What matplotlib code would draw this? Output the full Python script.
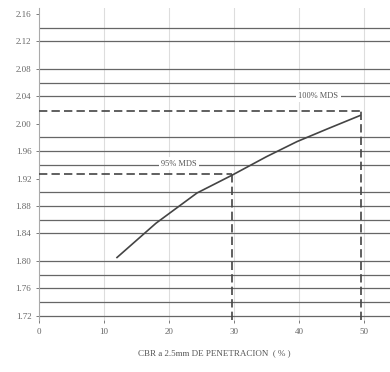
import matplotlib
matplotlib.use('Agg')
import matplotlib.pyplot as plt

# CBR curve
cbr = [12.0, 18.0, 24.3, 29.7, 35.0, 39.7, 44.5, 49.4]
density = [1.805, 1.855, 1.899, 1.925, 1.952, 1.974, 1.993, 2.012]

# reference levels
mds_labels = ['95% MDS', '100% MDS']
mds_density = [1.926, 2.018]
mds_cbr = [29.7, 49.5]
mds_label_x = [21.5, 43.0]
mds_label_y = [1.942, 2.040]

grid_y = [2.14, 2.12, 2.08, 2.06, 2.04, 1.98, 1.96, 1.94, 1.90, 1.88, 1.86,
          1.84, 1.80, 1.78, 1.76, 1.74, 1.72]
y_ticks = [1.72, 1.76, 1.80, 1.84, 1.88, 1.92, 1.96, 2.00, 2.04, 2.08, 2.12, 2.16]
x_ticks = [0, 10, 20, 30, 40, 50]

plt.rcParams['font.family'] = ['Liberation Serif', 'DejaVu Serif']

fig = plt.figure(figsize=(3.9, 3.72), dpi=100)
ax = fig.add_axes([0.1, 0.14, 0.9, 0.839])
ax.set_xlim(0, 54)
ax.set_ylim(1.714, 2.169)

for x in x_ticks[1:]:
    ax.axvline(x, color='#dddddd', lw=0.8, zorder=1)
for y in grid_y:
    ax.axhline(y, color='#666666', lw=0.9, zorder=2)

ax.plot(cbr, density, color='#444444', lw=1.2, zorder=4)

for lab, d, c, lx, ly in zip(mds_labels, mds_density, mds_cbr, mds_label_x, mds_label_y):
    ax.plot([0, c], [d, d], color='#444444', lw=1.2, ls=(0, (5, 2.5)), zorder=3)
    ax.plot([c, c], [1.714, d], color='#444444', lw=1.2, ls=(0, (5, 2.5)), zorder=3)
    ax.text(lx, ly, lab, fontsize=6, color='#555555', ha='center', va='center',
            bbox=dict(facecolor='white', edgecolor='none', pad=1.5), zorder=5)

ax.set_yticks(y_ticks)
ax.set_yticklabels(['%.2f' % v for v in y_ticks])
ax.set_xticks(x_ticks)
ax.tick_params(labelsize=6.5, colors='#666666', length=2, width=0.6)
for s in ['top', 'right']:
    ax.spines[s].set_visible(False)
ax.spines['left'].set_color('#aaaaaa')
ax.spines['bottom'].set_visible(False)

ax.set_xlabel('CBR a 2.5mm DE PENETRACION  ( % )', fontsize=6.5, color='#555555', labelpad=10)

fig.savefig('out.png', dpi=100)
